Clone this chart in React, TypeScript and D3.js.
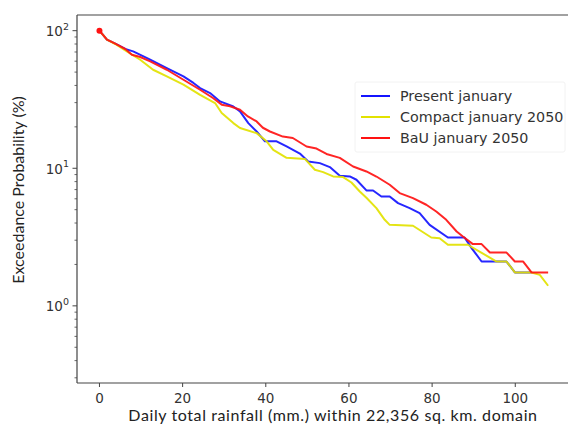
import React from "react";
import * as d3 from "d3";

// Exceedance curves: [daily rainfall (mm), exceedance probability (%)]
const presentJanuary: [number, number][] = [
  [0, 100], [1.8, 86], [3.8, 80.4], [6.2, 73.6], [8.1, 70.7], [12.2, 61.5],
  [16.2, 53.5], [20.2, 46.5], [22.6, 41.7], [24.2, 38.3], [26.6, 35.2],
  [29, 30.6], [32.2, 28.1], [33.8, 25.9], [35.8, 21.3], [37.8, 18.5],
  [39.8, 15.7], [42.6, 15.7], [45, 14.4], [48.2, 12.8], [50.2, 11.2],
  [53, 10.9], [55.4, 10.2], [57.8, 8.82], [60.2, 8.72], [61.8, 8.25],
  [64.2, 6.9], [65.8, 6.9], [67.8, 6.24], [69.8, 6.24], [71.8, 5.58],
  [74.6, 5.13], [77, 4.72], [79.4, 3.88], [83.8, 3.14], [87.8, 3.14],
  [89.5, 2.63], [91.9, 2.1], [97.9, 2.1], [99.9, 1.75], [103.9, 1.75],
];

const compactJanuary2050: [number, number][] = [
  [0, 100], [1.8, 86], [3.8, 80], [6.2, 72], [9.8, 61.5], [12.9, 52],
  [16.2, 46.5], [20.2, 40.5], [24.2, 34.2], [27.8, 29.8], [29.4, 25.2],
  [32.2, 21.3], [33.8, 19.6], [37.8, 18], [40.2, 15.7], [41.8, 13.6],
  [45, 11.9], [49.4, 11.7], [51.8, 9.75], [53.8, 9.38], [56.2, 8.72],
  [58.6, 8.63], [60.6, 7.88], [62.6, 6.78], [64.2, 6.1], [66.6, 5.13],
  [68.6, 4.22], [69.8, 3.88], [75.4, 3.82], [79.8, 3.14], [81.8, 3.1],
  [83.8, 2.78], [88.6, 2.78], [91.4, 2.48], [95.5, 2.1], [97.9, 2.1],
  [99.9, 1.75], [103.9, 1.75], [105.9, 1.68], [107.9, 1.4],
];

const bauJanuary2050: [number, number][] = [
  [0, 100], [1.8, 86], [3.8, 80.4], [6.2, 73.6], [7.8, 66.9], [9.8, 64.4],
  [12.2, 59.8], [16.2, 52], [20.2, 44], [24.2, 37.2], [27.3, 32.4],
  [29.4, 29], [31.4, 28.2], [33.8, 26.6], [35.7, 23.8], [37.8, 21.9],
  [39.3, 19.7], [41, 18.5], [44.1, 17], [46.5, 16.6], [49.8, 14.4],
  [52.2, 13.9], [54.6, 12.7], [57.8, 11.9], [61, 10.3], [64.2, 9.48],
  [66.6, 8.71], [69.8, 7.59], [72.2, 6.6], [75.4, 6.07], [78.6, 5.43],
  [81, 4.85], [83.4, 4.22], [85.9, 3.47], [87.4, 3.19], [89.8, 2.81],
  [91.9, 2.81], [93.9, 2.44], [97.9, 2.44], [99.9, 2.1], [101.9, 2.1],
  [103.9, 1.75], [107.9, 1.75],
];

const seriesNames = ["Present january", "Compact january 2050", "BaU january 2050"];
const seriesColors = ["#1414ff", "#e2e200", "#ff1212"];
const xTicks = [0, 20, 40, 60, 80, 100];
const yMajorExponents = [0, 1, 2];

const W = 568;
const H = 426;
const left = 77;
const right = 571;
const top = 15;
const bottom = 383;

export default function App() {
  const x = d3.scaleLinear().domain([-5.4, 113.4]).range([left, right]);
  const y = d3.scaleLog().domain([0.275, 130]).range([bottom, top]);

  const line = d3
    .line<[number, number]>()
    .x((d) => x(d[0]))
    .y((d) => y(d[1]));

  const allSeries = [presentJanuary, compactJanuary2050, bauJanuary2050];

  const minor: number[] = [];
  for (const base of [0.1, 1, 10]) {
    for (let k = 2; k <= 9; k++) {
      const v = base * k;
      if (v >= 0.275 && v <= 130) minor.push(v);
    }
  }

  const axisColor = "#444";
  const tickFont = "DejaVu Sans, sans-serif";
  const labelFont = "Lato, 'Open Sans', sans-serif";

  return (
    <svg width={W} height={H} style={{ position: "absolute", left: 0, top: 0, background: "#fff" }}>
      <rect x={0} y={0} width={W} height={H} fill="#fff" />
      <g>
        {allSeries.map((s, i) => (
          <path
            key={seriesNames[i]}
            d={line(s) || ""}
            fill="none"
            stroke={seriesColors[i]}
            strokeWidth={2}
            strokeLinejoin="round"
            strokeOpacity={0.92}
          />
        ))}
        <circle cx={x(bauJanuary2050[0][0])} cy={y(bauJanuary2050[0][1])} r={3} fill={seriesColors[2]} />
      </g>

      {/* spines */}
      <line x1={left} y1={top} x2={left} y2={bottom} stroke={axisColor} strokeWidth={1.2} />
      <line x1={left} y1={bottom} x2={W} y2={bottom} stroke={axisColor} strokeWidth={1.2} />
      <line x1={left} y1={top} x2={W} y2={top} stroke={axisColor} strokeWidth={1.2} />

      {/* x axis */}
      {xTicks.map((t) => (
        <g key={t}>
          <line x1={x(t)} x2={x(t)} y1={bottom} y2={bottom + 4} stroke={axisColor} strokeWidth={1} />
          <text
            x={x(t)}
            y={bottom + 20}
            textAnchor="middle"
            fontFamily={tickFont}
            fontSize={13.5}
            fill="#333"
          >
            {t}
          </text>
        </g>
      ))}

      {/* y axis */}
      {minor.map((v) => (
        <line key={v} x1={left - 2.5} x2={left} y1={y(v)} y2={y(v)} stroke={axisColor} strokeWidth={0.8} />
      ))}
      {yMajorExponents.map((e) => (
        <g key={e}>
          <line x1={left - 4.5} x2={left} y1={y(Math.pow(10, e))} y2={y(Math.pow(10, e))} stroke={axisColor} strokeWidth={1} />
          <text
            x={left - 8}
            y={y(Math.pow(10, e)) + 5.5}
            textAnchor="end"
            fontFamily={tickFont}
            fontSize={13.5}
            fill="#333"
          >
            10
            <tspan dy={-6.5} fontSize={9.5}>
              {e}
            </tspan>
          </text>
        </g>
      ))}

      {/* axis labels */}
      <text
        x={333}
        y={421}
        textAnchor="middle"
        fontFamily={labelFont}
        fontSize={16}
        letterSpacing={0.6}
        fill="#222"
      >
        Daily total rainfall (mm.) within 22,356 sq. km. domain
      </text>
      <text
        transform={`translate(24, 190) rotate(-90)`}
        textAnchor="middle"
        fontFamily={labelFont}
        fontSize={16}
        fill="#222"
      >
        Exceedance Probability (%)
      </text>

      {/* legend */}
      <rect x={355} y={82} width={210} height={70} fill="#fff" stroke="#f2f2f2" strokeWidth={1} rx={2} />
      {seriesNames.map((name, i) => (
        <g key={name}>
          <line
            x1={361}
            x2={390}
            y1={96 + i * 21}
            y2={96 + i * 21}
            stroke={seriesColors[i]}
            strokeWidth={2}
          />
          <text
            x={400}
            y={96 + i * 21 + 5}
            fontFamily={tickFont}
            fontSize={14.3}
            fill="#333"
          >
            {name}
          </text>
        </g>
      ))}
    </svg>
  );
}
